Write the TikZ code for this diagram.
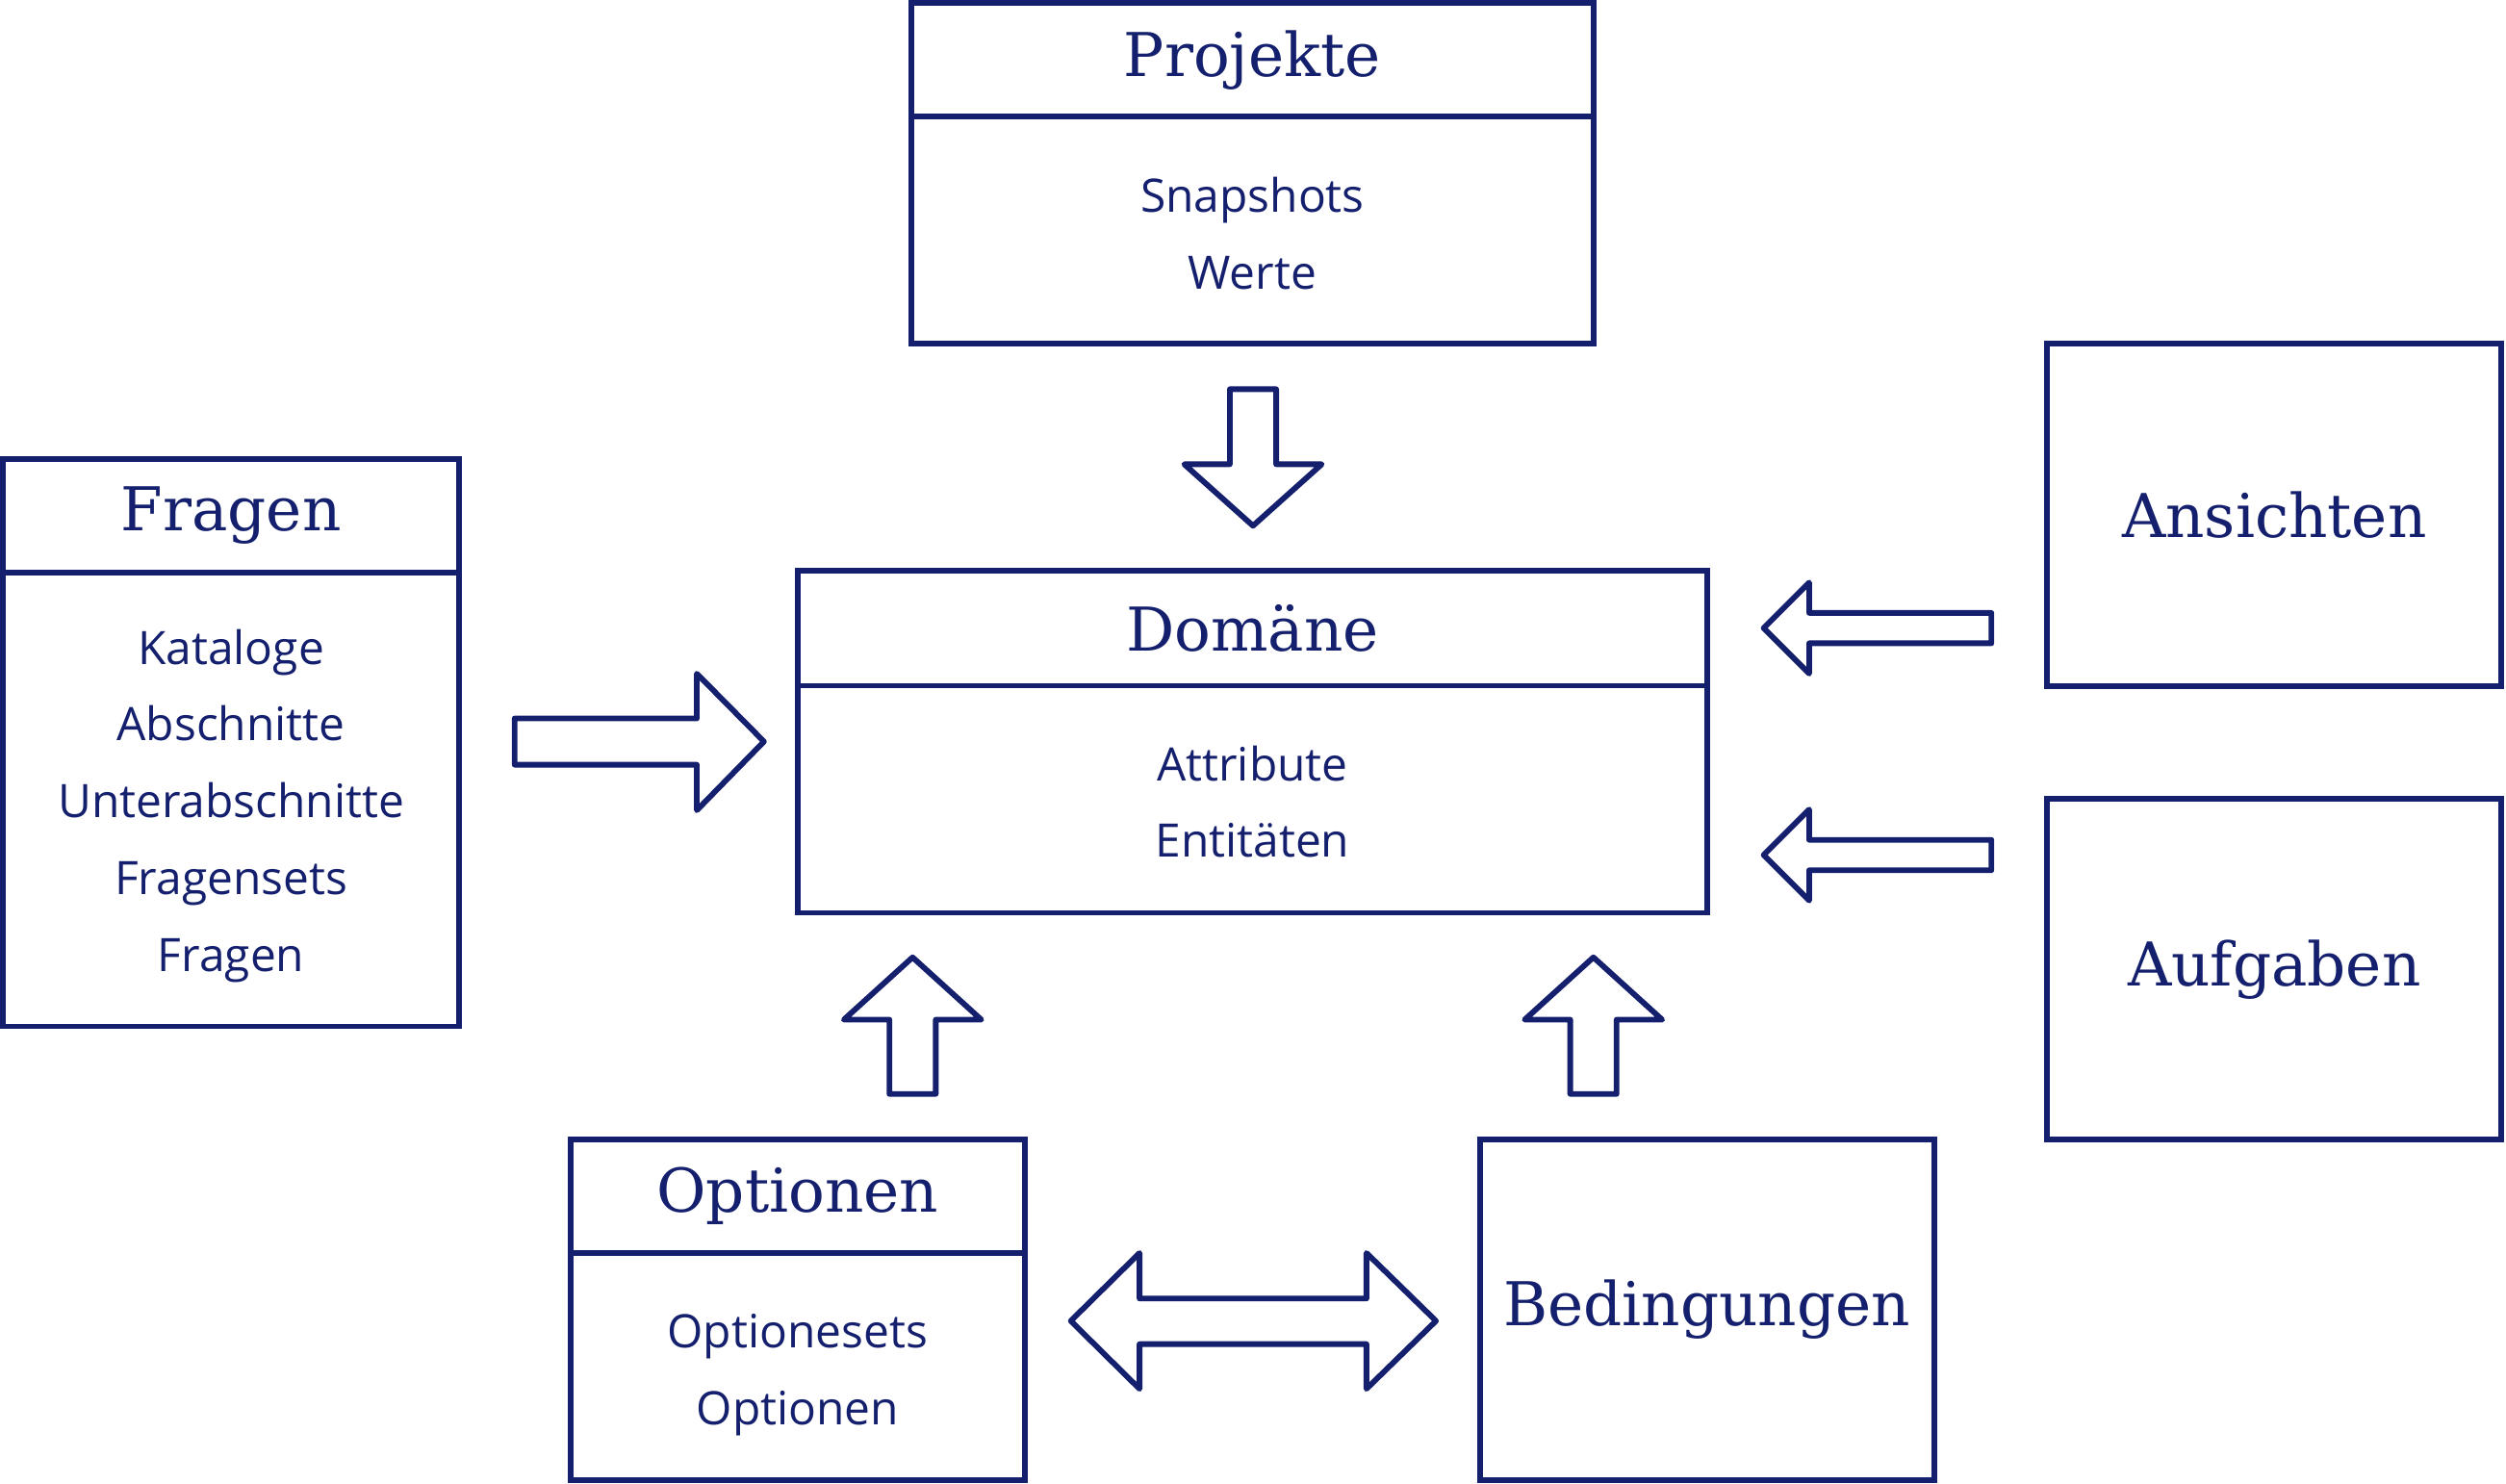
\documentclass[tikz,border=0pt]{standalone}
\usepackage{fontspec}
\setmainfont{Open Sans}
\newfontfamily\titlefont{DejaVu Serif}
\usepackage{xcolor}
\usetikzlibrary{positioning}
\definecolor{navy}{RGB}{20,32,110}
\tikzset{
    box/.style={draw=navy, line width=1pt, inner sep=0pt, outer sep=0pt, text=navy},
    head/.style={box, font=\titlefont\fontsize{10.75}{12}\selectfont},
    itemlist/.style={text=navy, inner sep=0pt, align=center, font=\fontsize{8.2}{13.66}\selectfont},
    blk/.style={draw=navy, line width=1pt, line join=round},
}

\begin{document}
\begin{tikzpicture}[x=0.01cm, y=-0.01cm]
    \useasboundingbox (0,0) rectangle (1568,928.5);
    \node[head, minimum width=4.27cm, minimum height=0.71cm, anchor=north west] (projekte) at (570,2) {Projekte};
    \node[box, minimum width=4.27cm, minimum height=1.42cm, below=0pt of projekte] (projekteBody) {};
    \node[itemlist, yshift=-0.02cm] (projekteItems) at (projekteBody) {Snapshots\\Werte};
    \node[head, minimum width=2.85cm, minimum height=0.71cm, anchor=north west] (fragen) at (2,287) {Fragen};
    \node[box, minimum width=2.85cm, minimum height=2.84cm, below=0pt of fragen] (fragenBody) {};
    \node[itemlist, yshift=-0.04cm] (fragenItems) at (fragenBody) {Kataloge\\Abschnitte\\Unterabschnitte\\Fragensets\\Fragen};
    \node[head, minimum width=5.69cm, minimum height=0.72cm, anchor=north west] (domaene) at (499,357) {Domäne};
    \node[box, minimum width=5.69cm, minimum height=1.42cm, below=0pt of domaene] (domaeneBody) {};
    \node[itemlist, yshift=-0.015cm] (domaeneItems) at (domaeneBody) {Attribute\\Entitäten};
    \node[head, minimum width=2.84cm, minimum height=2.14cm, anchor=north west] (ansichten) at (1281,215) {Ansichten};
    \node[head, minimum width=2.84cm, minimum height=2.13cm, anchor=north west] (aufgaben) at (1281,500) {Aufgaben};
    \node[head, minimum width=2.84cm, minimum height=0.71cm, anchor=north west] (optionen) at (357,713) {Optionen};
    \node[box, minimum width=2.84cm, minimum height=1.42cm, below=0pt of optionen] (optionenBody) {};
    \node[itemlist, yshift=-0.05cm] (optionenItems) at (optionenBody) {Optionesets\\Optionen};
    \node[head, minimum width=2.84cm, minimum height=2.13cm, anchor=north west] (bedingungen) at (926,713) {Bedingungen};

    % block arrows
    \draw[blk] (769.5,243.5) -- (798.5,243.5) -- (798.5,290.5) -- (827,290.5) -- (784,329) -- (741,290.5) -- (769.5,290.5) -- cycle;
    \draw[blk] (322,449.5) -- (436,449.5) -- (436,421.5) -- (478,464) -- (436,507) -- (436,478.5) -- (322,478.5) -- cycle;
    \foreach \cy in {393,535}
        \draw[blk] (1246,\cy-9.5) -- (1132,\cy-9.5) -- (1132,\cy-28.5) -- (1103.5,\cy) -- (1132,\cy+28.5) -- (1132,\cy+9.5) -- (1246,\cy+9.5) -- cycle;
    \foreach \cx in {571,997}
        \draw[blk] (\cx-14.5,684.5) -- (\cx-14.5,638) -- (\cx-43,638) -- (\cx,599) -- (\cx+43,638) -- (\cx+14.5,638) -- (\cx+14.5,684.5) -- cycle;
    \draw[blk] (670,826.5) -- (713,784) -- (713,812.5) -- (855,812.5) -- (855,784) -- (898.5,826.5) -- (855,869) -- (855,841) -- (713,841) -- (713,869) -- cycle;
\end{tikzpicture}
\end{document}
